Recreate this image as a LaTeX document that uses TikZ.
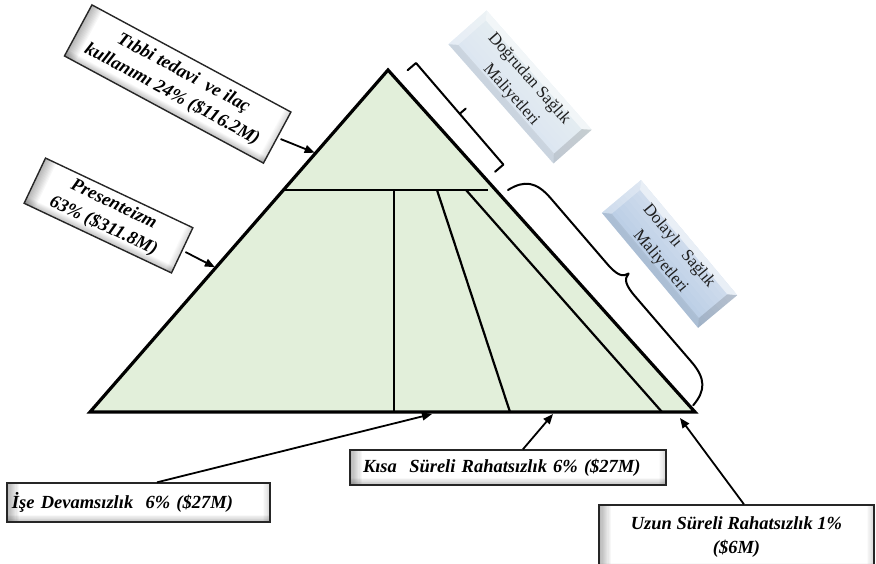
\documentclass[tikz,border=0pt]{standalone}
\usepackage{fontspec}
\setmainfont{Liberation Serif}
\usetikzlibrary{arrows.meta,calc}

\definecolor{pyrgreen}{RGB}{226,239,218}
\definecolor{paleblue}{RGB}{218,229,241}
\definecolor{softblue}{RGB}{184,205,229}

% white plate with a soft inner shadow on the left, bottom and right sides
% (local frame centred on the origin, y pointing down)
\newcommand\grayplate[2]{%
  \fill[white] ({-#1/2},{-#2/2}) rectangle ({#1/2},{#2/2});
  \foreach \st in {1,...,10}{%
    \fill[black,fill opacity=0.03] ({-#1/2},{-#2/2}) rectangle ({-#1/2+1.2*\st},{#2/2});
    \fill[black,fill opacity=0.022] ({-#1/2},{#2/2}) rectangle ({#1/2},{#2/2-0.7*\st});
    \fill[black,fill opacity=0.015] ({#1/2-0.7*\st},{-#2/2}) rectangle ({#1/2},{#2/2});
  }}

% bevelled blue plate: face colour, lighter towards the top, four bevel facets
\newcommand\blueplate[3]{%
  \fill[#3] ({-#1/2},{-#2/2}) rectangle ({#1/2},{#2/2});
  \foreach \st in {1,...,8}{%
    \fill[white,fill opacity=0.06] ({-#1/2},{-#2/2}) rectangle ({#1/2},{-#2/2+\st*#2/9});
  }
  \fill[white,fill opacity=0.55] ({-#1/2},{-#2/2}) -- ({#1/2},{-#2/2}) -- ({#1/2-7},{-#2/2+7}) -- ({-#1/2+7},{-#2/2+7}) -- cycle;
  \fill[white,fill opacity=0.3] ({-#1/2},{-#2/2}) -- ({-#1/2+7},{-#2/2+7}) -- ({-#1/2+7},{#2/2-7}) -- ({-#1/2},{#2/2}) -- cycle;
  \fill[black,fill opacity=0.07] ({-#1/2},{#2/2}) -- ({-#1/2+7},{#2/2-7}) -- ({#1/2-7},{#2/2-7}) -- ({#1/2},{#2/2}) -- cycle;
  \fill[black,fill opacity=0.13] ({#1/2},{-#2/2}) -- ({#1/2},{#2/2}) -- ({#1/2-7},{#2/2-7}) -- ({#1/2-7},{-#2/2+7}) -- cycle;
}

\begin{document}
\begin{tikzpicture}[x=1pt,y=-1pt,
  outline/.style={line width=3.2pt,line join=miter},
  divider/.style={line width=2.2pt},
  callout/.style={line width=1.8pt,-{Triangle[length=10pt,width=8pt]}},
  frame/.style={draw=black!85,line width=1.4pt,inner sep=0pt,
    font=\bfseries\itshape\fontsize{18.5}{24}\selectfont},
  bluetext/.style={inner sep=0pt,align=center,text=black!88,
    font=\fontsize{17}{24}\selectfont},
  bracket/.style={line width=2pt,line cap=round,line join=round}]

\useasboundingbox (0,0) rectangle (876,563);
\clip (0,0) rectangle (876,563);

% ---------- pyramid ----------
\coordinate (apex) at (388,70);
\coordinate (bl) at (90,412);
\coordinate (br) at (695,412);
\fill[pyrgreen] (apex) -- (bl) -- (br) -- cycle;
\draw[divider] (285,190) -- (488,190);
\draw[divider] (394,190) -- (394,412);
\draw[divider] (437,190) -- (510,412);
\draw[divider] (466,190) -- (662,412);
\draw[outline] (apex) -- (bl) -- (br) -- cycle;

% ---------- square bracket: direct costs ----------
\begin{scope}[shift={(416,63)},rotate=-49.3]
  \draw[bracket] (0,11) -- (0,0) -- (134,0) -- (134,11);
  \draw[bracket] (67,0) -- (67,-8);
\end{scope}

% ---------- curly brace: indirect costs ----------
\begin{scope}[shift={(508,190)},rotate=-49.3]
  \draw[bracket] (0,0) .. controls (3,-19) and (12,-27) .. (34,-27)
    -- (120,-27) .. controls (136,-27) and (141,-30) .. (142,-37)
    .. controls (143,-30) and (148,-27) .. (164,-27)
    -- (250,-27) .. controls (272,-27) and (281,-19) .. (284,0);
\end{scope}

% ---------- blue labels ----------
\begin{scope}[shift={(520,87)},rotate=-48.6]
  \blueplate{159}{51}{paleblue}
  \node[bluetext,minimum width=159pt,minimum height=51pt,transform shape] (direct) at (0,0)
    {Doğrudan Sağlık\\Maliyetleri};
\end{scope}
\begin{scope}[shift={(669.5,254)},rotate=-50.1]
  \blueplate{150}{51}{softblue}
  \node[bluetext,minimum width=150pt,minimum height=51pt,transform shape] (indirect) at (0,0)
    {Dolaylı\ \ Sağlık\\Maliyetleri};
\end{scope}

% ---------- tilted callouts ----------
\begin{scope}[shift={(177.7,84)},rotate=-28.3]
  \grayplate{226}{58}
  \node[frame,align=center,minimum width=226pt,minimum height=58pt,transform shape] (medical) at (0,0)
    {Tıbbi tedavi\ \ ve ilaç\\kullanımı 24\% (\$116.2M)};
\end{scope}
\begin{scope}[shift={(108.5,215.5)},rotate=-25.3]
  \grayplate{163}{50}
  \node[frame,align=center,minimum width=163pt,minimum height=50pt,transform shape] (presenteeism) at (0,0)
    {Presenteizm\\63\% (\$311.8M)};
\end{scope}

% ---------- bottom callouts ----------
\begin{scope}[shift={(138.5,502.5)}]
  \grayplate{263}{39}
  \node[frame,align=left,text width=253pt,inner xsep=5pt,minimum height=39pt] (absence) at (0,0)
    {İşe Devamsızlık\ \ 6\% (\$27M)};
\end{scope}
\begin{scope}[shift={(508,467.5)}]
  \grayplate{316}{35}
  \node[frame,align=left,text width=290pt,inner xsep=13pt,minimum height=35pt] (shortterm) at (0,0)
    {Kısa\ \ Süreli Rahatsızlık 6\% (\$27M)};
\end{scope}
\begin{scope}[shift={(736.5,537.5)}]
  \grayplate{275}{65}
  \node[frame,align=center,minimum width=275pt,minimum height=65pt] (longterm) at (0,0)
    {Uzun Süreli Rahatsızlık 1\%\\(\$6M)};
\end{scope}

% ---------- arrows ----------
\coordinate (tMedical) at ($(apex)!0.243!(bl)$);
\coordinate (tPresent) at ($(apex)!0.578!(bl)$);
\coordinate (tAbsence) at (432,414);
\coordinate (tShort) at (553,414);
\coordinate (tLong) at (680,418);
\draw[callout,shorten <=3pt,shorten >=1pt] (medical.east) -- (tMedical);
\draw[callout,shorten <=3pt,shorten >=1pt] (presenteeism.east) -- (tPresent);
\draw[callout] ($(absence.north west)!0.57!(absence.north east)$) -- (tAbsence);
\draw[callout] ($(shortterm.north west)!0.547!(shortterm.north east)$) -- (tShort);
\draw[callout] ($(longterm.north west)!0.527!(longterm.north east)$) -- (tLong);
\end{tikzpicture}
\end{document}
